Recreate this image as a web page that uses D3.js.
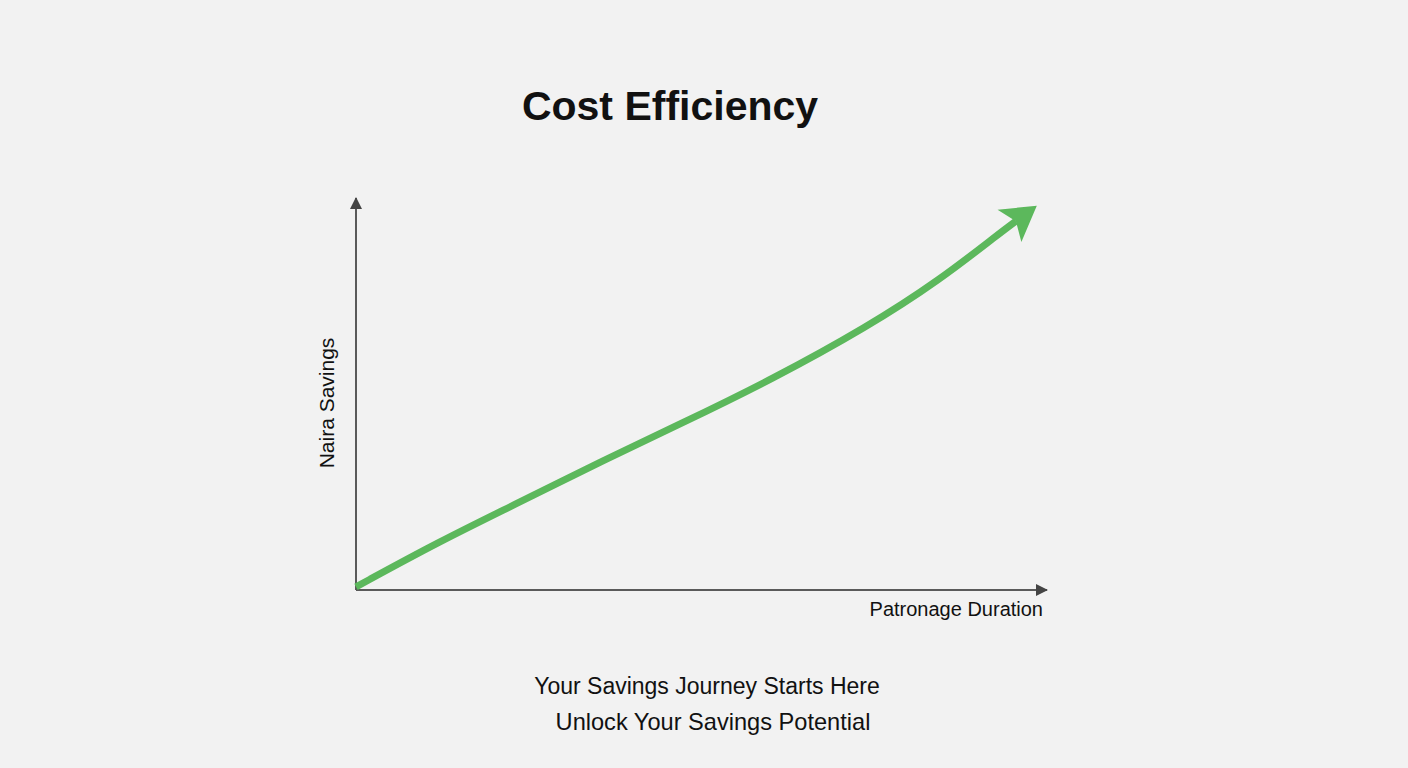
<!DOCTYPE html>
<html>
<head>
<meta charset="utf-8">
<script src="https://cdn.jsdelivr.net/npm/d3@7"></script>
<style>
  body { margin: 0; background: #f2f2f2; }
  svg { display: block; }
</style>
</head>
<body>
<svg id="chart" width="1408" height="768"></svg>
<script>
// chart data (relative units, 0-100 on both axes)
var duration = [0, 12.2, 23.7, 35.3, 46.9, 60.3, 74.0, 84.5, 93.2, 95.5];
var savings  = [0.8, 12.5, 22.4, 32.7, 42.3, 53.8, 67.1, 79.1, 91.1, 94.1];

var titleText = "Cost Efficiency";
var xLabel = "Patronage Duration";
var yLabel = "Naira Savings";
var subtitles = ["Your Savings Journey Starts Here", "Unlock Your Savings Potential"];

var svg = d3.select("#chart");
var font = "'Liberation Sans', Arial, Helvetica, sans-serif";

var x = d3.scaleLinear().domain([0, 100]).range([356, 1047]);
var y = d3.scaleLinear().domain([0, 100]).range([590, 198]);

// markers
var defs = svg.append("defs");
defs.append("marker")
    .attr("id", "axis-head")
    .attr("markerUnits", "userSpaceOnUse")
    .attr("markerWidth", 14)
    .attr("markerHeight", 14)
    .attr("viewBox", "0 -7 14 14")
    .attr("refX", 11)
    .attr("refY", 0)
    .attr("orient", "auto")
  .append("path")
    .attr("d", "M0,-6L12,0L0,6Z")
    .style("fill", "#444");

defs.append("marker")
    .attr("id", "line-head")
    .attr("markerUnits", "userSpaceOnUse")
    .attr("markerWidth", 40)
    .attr("markerHeight", 44)
    .attr("viewBox", "0 -22 40 44")
    .attr("refX", 8)
    .attr("refY", 0)
    .attr("orient", "auto")
  .append("path")
    .attr("d", "M0,-20L34,0L0,20L8,0Z")
    .style("fill", "#5cb85c");

// axes
svg.append("line")
    .attr("x1", x(0)).attr("y1", y(0))
    .attr("x2", x(0)).attr("y2", y(100))
    .style("stroke", "#5a5a5a")
    .style("stroke-width", 2)
    .attr("marker-end", "url(#axis-head)");

svg.append("line")
    .attr("x1", x(0)).attr("y1", y(0))
    .attr("x2", x(100)).attr("y2", y(0))
    .style("stroke", "#5a5a5a")
    .style("stroke-width", 2)
    .attr("marker-end", "url(#axis-head)");

// savings curve
var pts = duration.map(function(d, i) { return [d, savings[i]]; });
var line = d3.line()
    .x(function(d) { return x(d[0]); })
    .y(function(d) { return y(d[1]); })
    .curve(d3.curveBasis);

svg.append("path")
    .datum(pts)
    .attr("d", line)
    .style("fill", "none")
    .style("stroke", "#5cb85c")
    .style("stroke-width", 7)
    .attr("marker-end", "url(#line-head)");

// texts
svg.append("text")
    .attr("x", 670)
    .attr("y", 120)
    .attr("text-anchor", "middle")
    .style("font-family", font)
    .style("font-weight", "bold")
    .style("font-size", "41px")
    .style("fill", "#111")
    .text(titleText);

svg.append("text")
    .attr("x", 1043)
    .attr("y", 616)
    .attr("text-anchor", "end")
    .style("font-family", font)
    .style("font-size", "20px")
    .style("fill", "#111")
    .text(xLabel);

svg.append("text")
    .attr("transform", "translate(334,403) rotate(-90)")
    .attr("text-anchor", "middle")
    .style("font-family", font)
    .style("font-size", "21px")
    .style("fill", "#111")
    .text(yLabel);

svg.selectAll(".subtitle")
    .data(subtitles)
    .enter().append("text")
    .attr("class", "subtitle")
    .attr("x", function(d, i) { return i == 0 ? 707 : 713; })
    .attr("y", function(d, i) { return 694 + i * 36; })
    .attr("text-anchor", "middle")
    .style("font-family", font)
    .style("font-size", function(d, i) { return i == 0 ? "23px" : "23.6px"; })
    .style("fill", "#111")
    .text(function(d) { return d; });
</script>
</body>
</html>
